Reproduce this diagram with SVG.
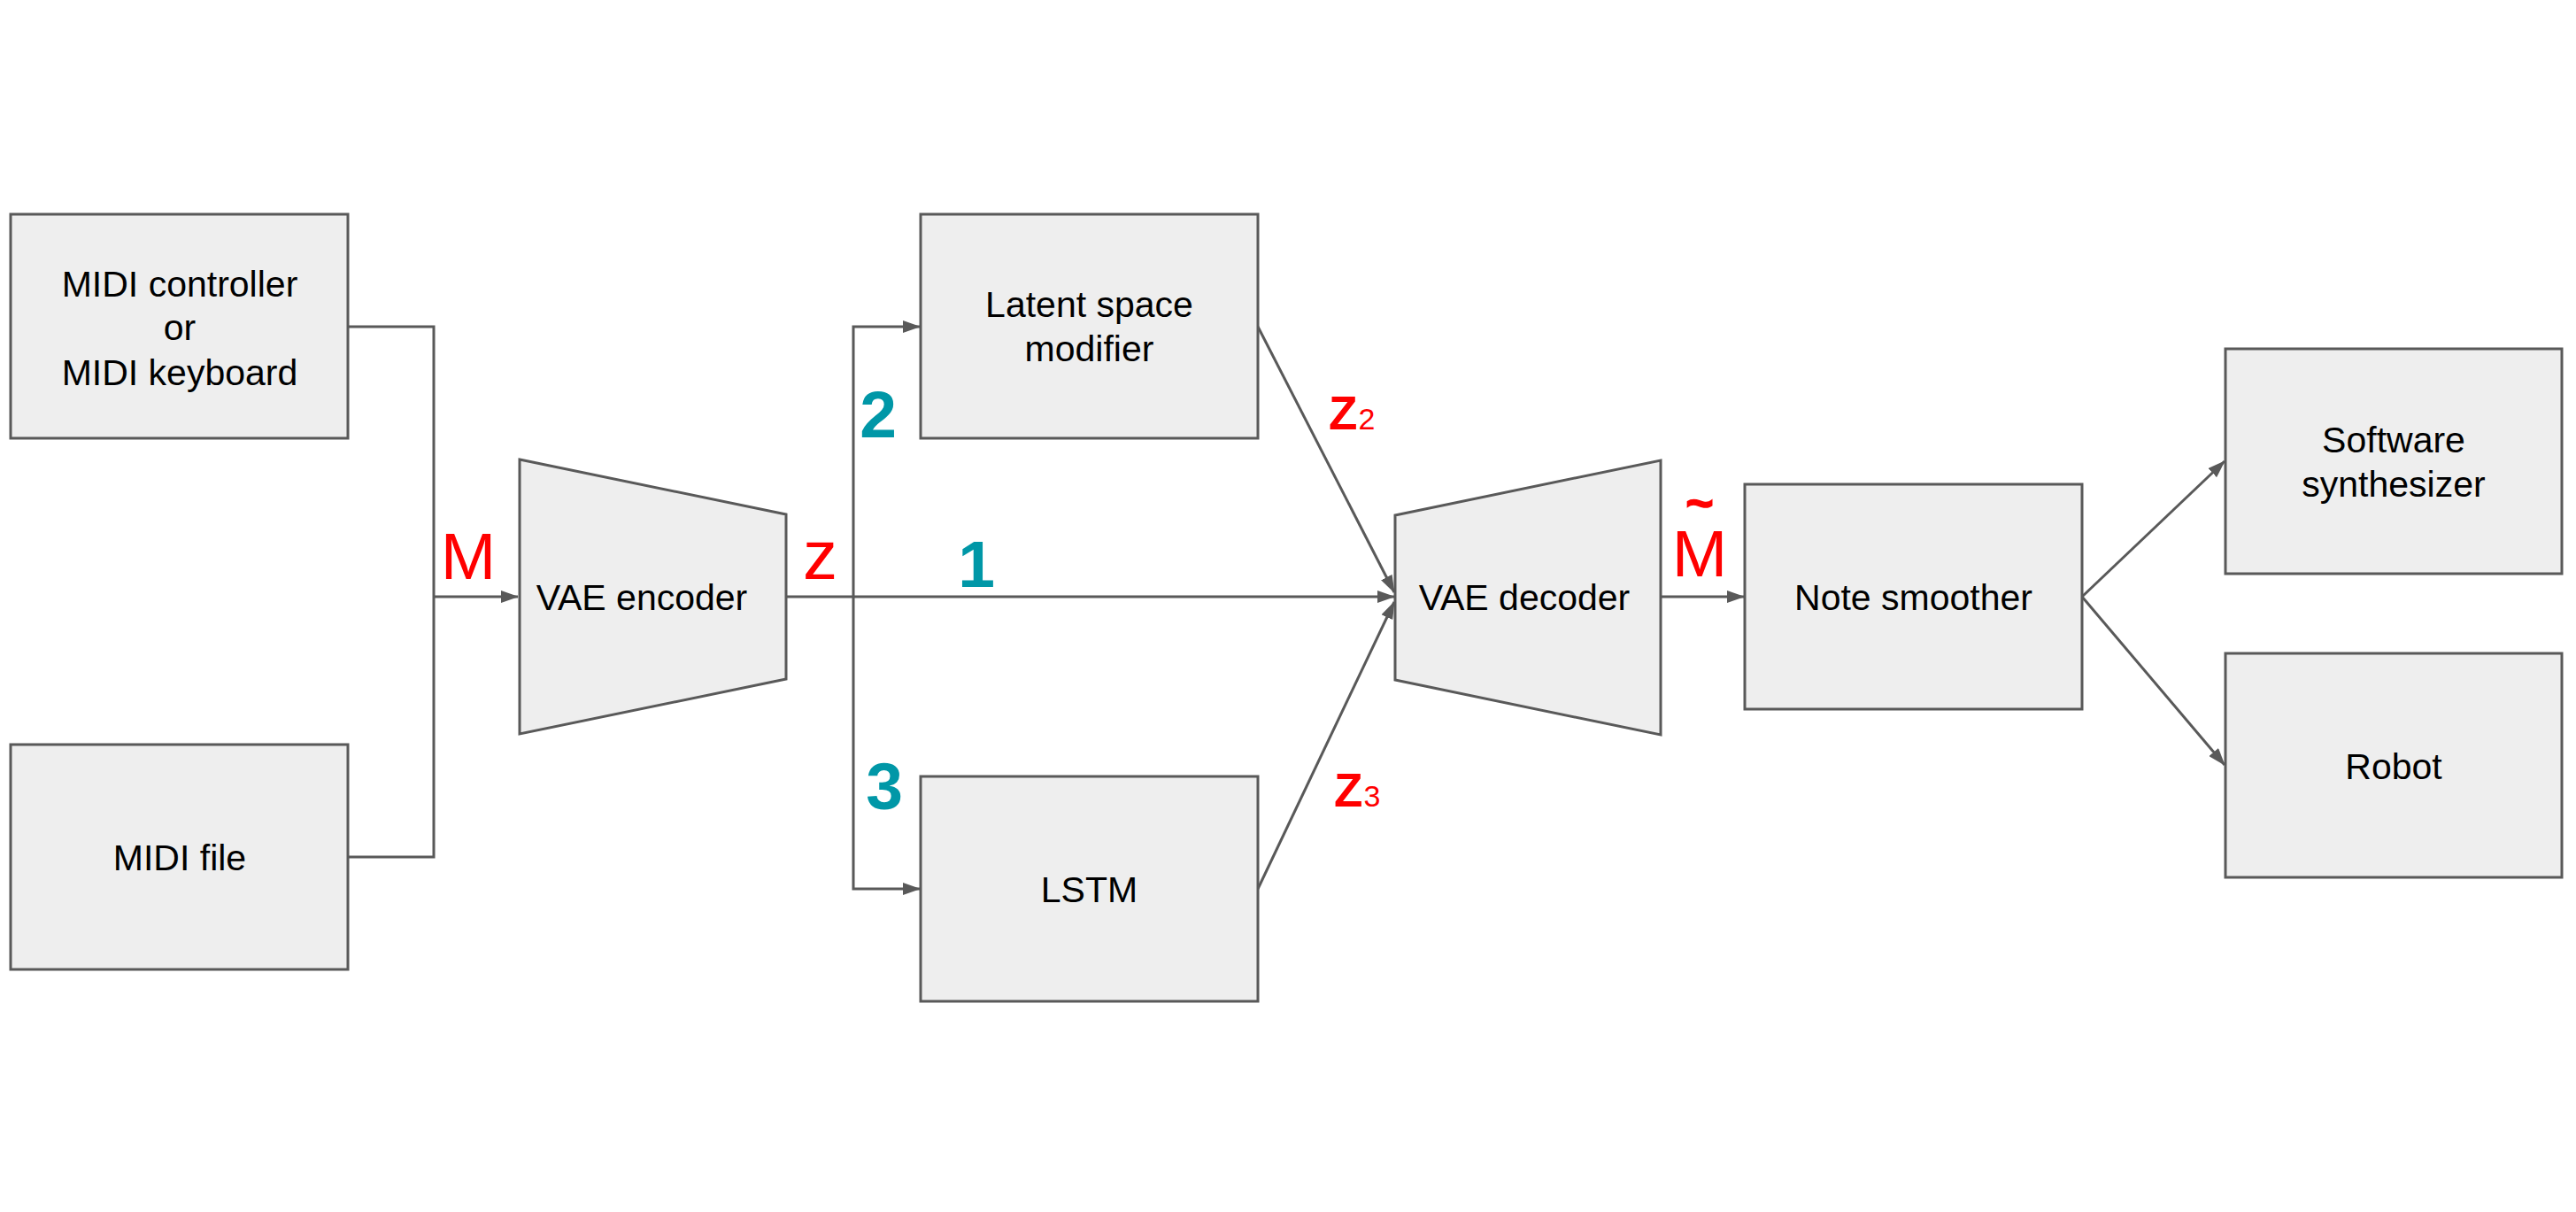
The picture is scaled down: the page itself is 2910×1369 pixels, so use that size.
<svg xmlns="http://www.w3.org/2000/svg" width="2910" height="1369" viewBox="0 0 2910 1369">
<style>
.box{fill:#eeeeee;stroke:#595959;stroke-width:3}
.t{font-family:"Liberation Sans",Arial,sans-serif;font-size:41px;fill:#000;text-anchor:middle}
.c{fill:none;stroke:#595959;stroke-width:3}
.red{font-family:"Liberation Sans",Arial,sans-serif;fill:#ff0000}
.num{font-family:"Liberation Sans",Arial,sans-serif;font-weight:bold;font-size:75px;fill:#0097a7;text-anchor:middle}
</style>
<defs>
<marker id="ah" markerUnits="userSpaceOnUse" markerWidth="20" markerHeight="14" refX="19" refY="7" orient="auto">
<path d="M0,0 L20,7 L0,14 z" fill="#595959"/>
</marker>
</defs>
<rect width="2910" height="1369" fill="#ffffff"/>
<g id="connectors">
<polyline class="c" points="393,369 490,369 490,968 393,968"/>
<line class="c" x1="490" y1="674" x2="585" y2="674" marker-end="url(#ah)"/>
<line class="c" x1="888" y1="674" x2="1575" y2="674" marker-end="url(#ah)"/>
<polyline class="c" points="964,674 964,369 1039,369" marker-end="url(#ah)"/>
<polyline class="c" points="964,674 964,1004 1039,1004" marker-end="url(#ah)"/>
<line class="c" x1="1421" y1="369" x2="1575" y2="669" marker-end="url(#ah)"/>
<line class="c" x1="1421" y1="1004" x2="1575" y2="680" marker-end="url(#ah)"/>
<line class="c" x1="1876" y1="674" x2="1970" y2="674" marker-end="url(#ah)"/>
<line class="c" x1="2352" y1="674" x2="2513" y2="521" marker-end="url(#ah)"/>
<line class="c" x1="2352" y1="674" x2="2513" y2="864" marker-end="url(#ah)"/>
</g>
<g id="midi-controller">
<rect class="box" x="12" y="242" width="381" height="253"/>
<text class="t" x="203" y="335">MIDI controller</text>
<text class="t" x="203" y="384">or</text>
<text class="t" x="203" y="435">MIDI keyboard</text>
</g>
<g id="midi-file">
<rect class="box" x="12" y="841" width="381" height="254"/>
<text class="t" x="203" y="983">MIDI file</text>
</g>
<g id="vae-encoder">
<polygon class="box" points="587,519 888,581 888,767 587,829"/>
<text class="t" x="725" y="689">VAE encoder</text>
</g>
<g id="latent-space-modifier">
<rect class="box" x="1040" y="242" width="381" height="253"/>
<text class="t" x="1230.5" y="358">Latent space</text>
<text class="t" x="1230.5" y="408">modifier</text>
</g>
<g id="lstm">
<rect class="box" x="1040" y="877" width="381" height="254"/>
<text class="t" x="1230.5" y="1019">LSTM</text>
</g>
<g id="vae-decoder">
<polygon class="box" points="1576,582 1876,520 1876,830 1576,768"/>
<text class="t" x="1722" y="689">VAE decoder</text>
</g>
<g id="note-smoother">
<rect class="box" x="1971" y="547" width="381" height="254"/>
<text class="t" x="2161.5" y="689">Note smoother</text>
</g>
<g id="software-synthesizer">
<rect class="box" x="2514" y="394" width="380" height="254"/>
<text class="t" x="2704" y="511">Software</text>
<text class="t" x="2704" y="561">synthesizer</text>
</g>
<g id="robot">
<rect class="box" x="2514" y="738" width="380" height="253"/>
<text class="t" x="2704" y="880">Robot</text>
</g>
<g id="labels">
<text class="red" x="529" y="654" font-size="75" text-anchor="middle">M</text>
<text class="red" x="926.5" y="654" font-size="78" text-anchor="middle">z</text>
<text class="red" x="1501" y="485" font-size="53" font-weight="bold">Z<tspan font-size="34" font-weight="normal" dx="1">2</tspan></text>
<text class="red" x="1507" y="911" font-size="53" font-weight="bold">Z<tspan font-size="34" font-weight="normal" dx="1">3</tspan></text>
<text class="red" text-anchor="middle"><tspan x="1920" y="587" font-size="54" font-weight="bold" stroke="#ff0000" stroke-width="1.5">~</tspan><tspan x="1920" y="651" font-size="75">M</tspan></text>
<text class="num" x="1103" y="663">1</text>
<text class="num" x="992" y="494">2</text>
<text class="num" x="999" y="914">3</text>
</g>
</svg>
